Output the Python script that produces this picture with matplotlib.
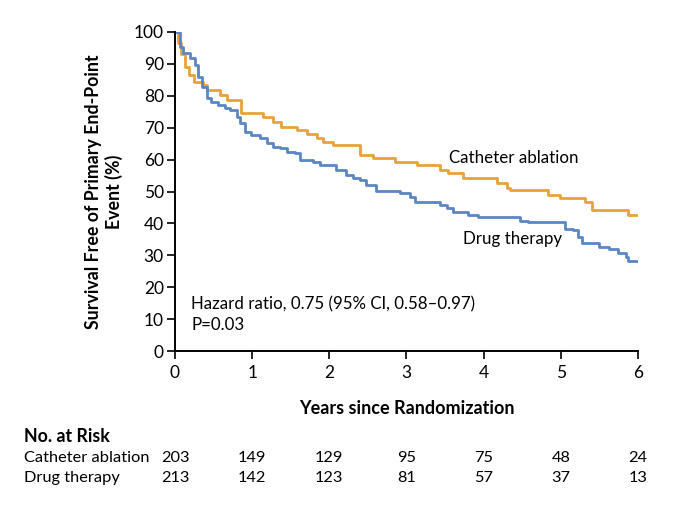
import matplotlib
matplotlib.use("Agg")
import matplotlib.pyplot as plt

# Catheter ablation KM steps (years, % free of event)
abl_t = [0, 0.04, 0.08, 0.13, 0.18, 0.24, 0.36, 0.41, 0.58, 0.67, 0.86, 1.14, 1.27, 1.38, 1.58, 1.71,
         1.84, 1.92, 2.05, 2.40, 2.57, 2.85, 3.13, 3.43, 3.54, 3.73, 4.17, 4.30, 4.34,
         4.84, 4.99, 5.31, 5.40, 5.87, 6.0]
abl_s = [100, 96.5, 93.0, 89.0, 86.5, 84.4, 83.4, 81.8, 80.3, 78.7, 74.7, 73.4, 71.9, 70.3, 69.3, 68.0,
         66.7, 65.6, 64.6, 61.4, 60.4, 59.3, 58.3, 56.7, 55.7, 54.1, 52.6, 51.0, 50.5,
         48.9, 47.9, 46.8, 44.2, 42.6, 42.6]

# Drug therapy KM steps
drug_t = [0, 0.06, 0.11, 0.19, 0.26, 0.30, 0.35, 0.41, 0.47, 0.56, 0.65, 0.71, 0.80, 0.84,
          0.91, 0.99, 1.10, 1.19, 1.27, 1.36, 1.45, 1.55, 1.62, 1.79, 1.88, 2.09, 2.22,
          2.31, 2.40, 2.48, 2.61, 2.91, 3.04, 3.11, 3.43, 3.52, 3.60, 3.80, 3.93, 4.47,
          4.58, 5.05, 5.16, 5.22, 5.27, 5.50, 5.63, 5.74, 5.85, 5.87, 6.0]
drug_s = [100, 95.4, 93.3, 91.7, 89.7, 86.0, 82.9, 79.2, 78.2, 77.1, 76.1, 75.5, 73.4, 71.4,
          68.7, 67.7, 66.7, 65.1, 64.0, 63.5, 62.5, 62.2, 59.9, 59.3, 58.3, 56.7, 55.2,
          54.1, 53.6, 52.0, 50.3, 49.4, 48.4, 46.8, 45.8, 44.7, 43.7, 42.6, 41.9, 40.8,
          40.3, 38.4, 37.9, 35.8, 33.9, 32.7, 31.9, 30.6, 29.6, 28.2, 28.2]

risk_years = [0, 1, 2, 3, 4, 5, 6]
risk_abl = [203, 149, 129, 95, 75, 48, 24]
risk_drug = [213, 142, 123, 81, 57, 37, 13]

ORANGE = "#E8A23A"
BLUE = "#5B86C3"
FONT = ["Lato", "DejaVu Sans"]
plt.rcParams["font.family"] = FONT

fig = plt.figure(figsize=(6.8, 5.3), dpi=100)
ax = fig.add_axes([175/680, 1-351/530, (638-175)/680, (351-32)/530])

ax.step(abl_t, abl_s, where="post", color=ORANGE, lw=2.0)
ax.step(drug_t, drug_s, where="post", color=BLUE, lw=2.0)

ax.set_xlim(0, 6)
ax.set_ylim(0, 100)
ax.set_xticks(range(0, 7))
ax.set_yticks(range(0, 101, 10))
for s in ["top", "right"]:
    ax.spines[s].set_visible(False)
for s in ["left", "bottom"]:
    ax.spines[s].set_linewidth(1.4)
ax.tick_params(axis="both", direction="out", length=6, width=1.2, labelsize=12.5, pad=2)
ax.tick_params(axis="x", pad=4)

ax.set_xlabel("Years since Randomization", fontsize=13, fontweight="bold", labelpad=14)
ax.set_ylabel("Survival Free of Primary End-Point\nEvent (%)", fontsize=12.8,
              fontweight="bold", labelpad=8)

ax.text(3.55, 60.5, "Catheter ablation", fontsize=12.2, va="center", ha="left")
ax.text(3.73, 35.1, "Drug therapy", fontsize=12.2, va="center", ha="left")
ax.text(0.21, 14.7, "Hazard ratio, 0.75 (95% CI, 0.58\u20130.97)", fontsize=12.2,
        va="center", ha="left")
ax.text(0.21, 8.2, "P=0.03", fontsize=12.2, va="center", ha="left")

# Risk table
fig.text(24/680, 1-437/530, "No. at Risk", fontsize=12.8, fontweight="bold", va="center")
fig.text(24/680, 1-458/530, "Catheter ablation", fontsize=11.8, va="center")
fig.text(24/680, 1-478/530, "Drug therapy", fontsize=11.8, va="center")
for yr, a, d in zip(risk_years, risk_abl, risk_drug):
    xf = (175 + (638-175) * yr / 6) / 680
    fig.text(xf, 1-458/530, str(a), fontsize=11.8, va="center", ha="center")
    fig.text(xf, 1-478/530, str(d), fontsize=11.8, va="center", ha="center")

fig.savefig("out.png", dpi=100)
